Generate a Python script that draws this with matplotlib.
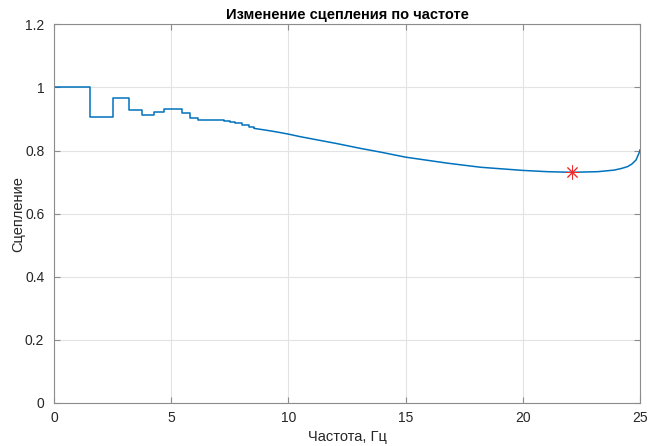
import numpy as np
import matplotlib
matplotlib.use('Agg')
import matplotlib.pyplot as plt
from matplotlib.ticker import FormatStrFormatter

plt.rcParams['font.family'] = ['Liberation Sans', 'DejaVu Sans']

# stepped part of the curve (low frequencies)
step_f = [0, 1.55, 2.53, 3.21, 3.75, 4.25, 4.71, 5.09, 5.45, 5.80, 6.16,
          7.24, 7.52, 7.74, 8.02, 8.30, 8.55]
step_v = [1.0, 0.905, 0.967, 0.929, 0.913, 0.922, 0.933, 0.931, 0.919, 0.904,
          0.898, 0.895, 0.891, 0.886, 0.880, 0.874, 0.870]

# smooth part of the curve
smooth_f = [8.55, 9.0, 9.5, 10.0, 10.5, 11.07, 12.07, 13.06, 13.93, 15.0,
            16.78, 18.2, 20.0, 21.05, 22.1, 23.2, 23.9, 24.2, 24.47, 24.65,
            24.83, 24.97, 25.0]
smooth_v = [0.870, 0.865, 0.859, 0.852, 0.844, 0.836, 0.822, 0.807, 0.795,
            0.779, 0.760, 0.747, 0.737, 0.733, 0.731, 0.733, 0.738, 0.743,
            0.749, 0.757, 0.770, 0.794, 0.802]

# minimum point
min_f = 22.1
min_v = 0.731

xticks = [0, 5, 10, 15, 20, 25]
yticks = [0, 0.2, 0.4, 0.6, 0.8, 1.0, 1.2]

line_col = '#0072BD'
axis_col = '#8c8c8c'

fig = plt.figure(figsize=(6.49, 4.46), dpi=100)
ax = fig.add_axes([54/649, 43/446, 586/649, 378.7/446])

ax.step(step_f, step_v, where='post', color=line_col, lw=1.1)
ax.plot(smooth_f, smooth_v, color=line_col, lw=1.1)
# asterisk marker at the minimum
ax.plot([min_f], [min_v], marker=(8, 2, 0), color='#ee2a2a', ms=10,
        markeredgewidth=0.7, linestyle='none')

ax.set_xlim(0, 25)
ax.set_ylim(0, 1.2)
ax.set_xticks(xticks)
ax.set_yticks(yticks)
ax.yaxis.set_major_formatter(FormatStrFormatter('%g'))

ax.grid(True, color='#e3e3e3', lw=0.8)
ax.set_axisbelow(True)
ax.tick_params(direction='in', length=4, color=axis_col, labelsize=10,
               labelcolor='#262626', top=True, right=True)
ax.tick_params(axis='x', pad=6)
ax.tick_params(axis='y', pad=7)
for s in ax.spines.values():
    s.set_color(axis_col)
    s.set_linewidth(0.8)

ax.set_xlabel('Частота, Гц', fontsize=10.5, color='#262626', labelpad=3)
ax.set_ylabel('Сцепление', fontsize=10.5, color='#262626', labelpad=0)
ax.set_title('Изменение сцепления по частоте', fontsize=10.5,
             fontweight='bold', pad=4)

fig.savefig('out.png', dpi=100)
